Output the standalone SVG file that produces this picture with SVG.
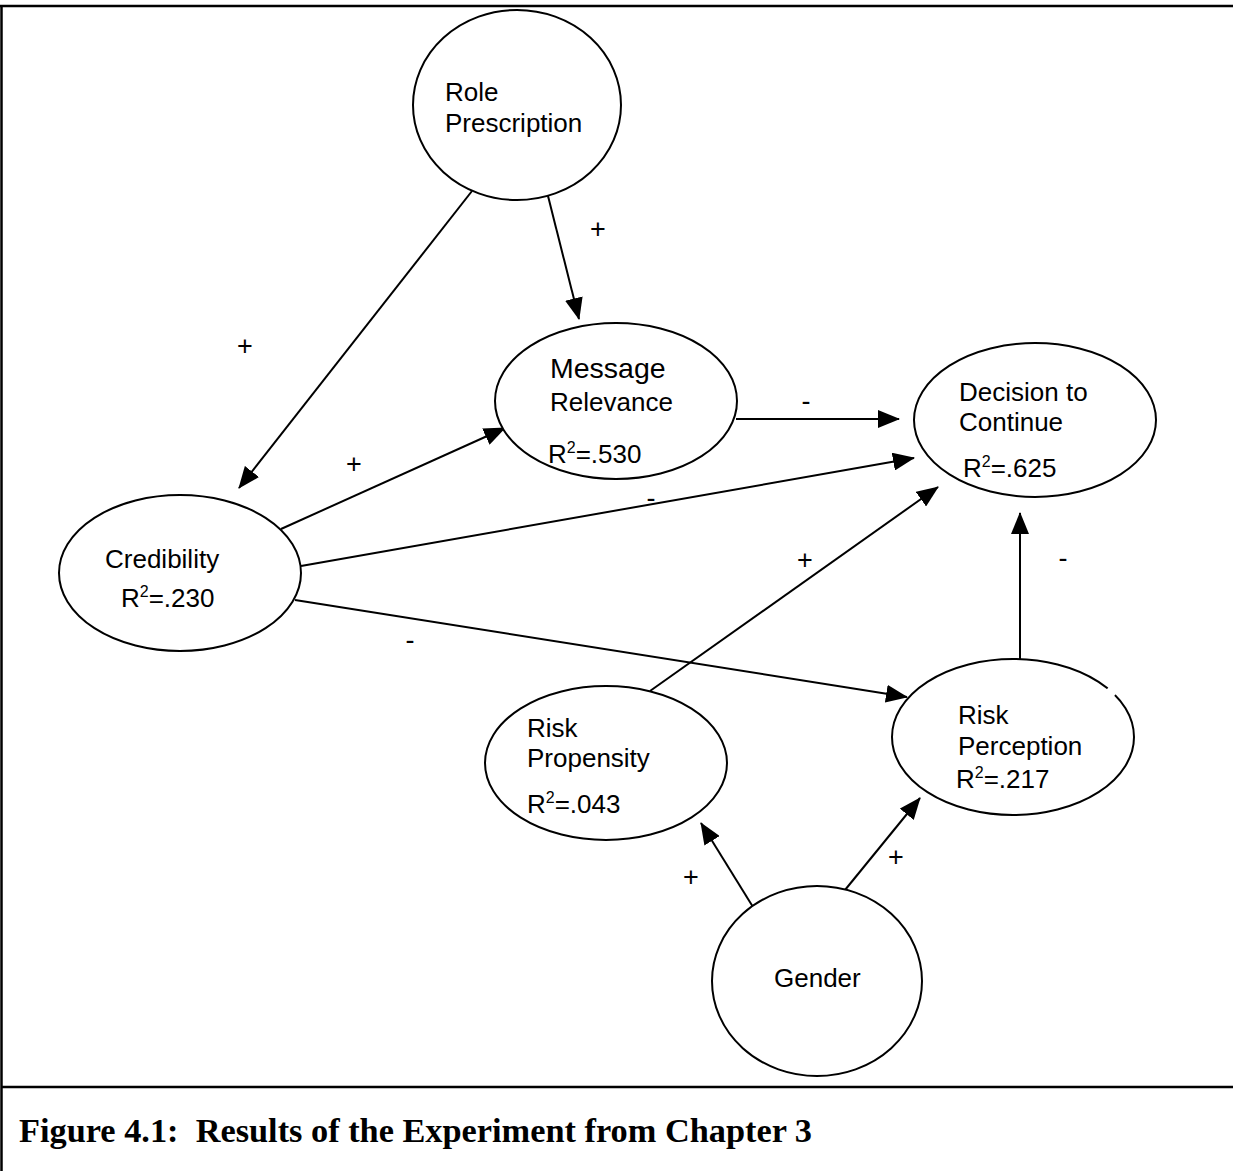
<svg xmlns="http://www.w3.org/2000/svg" width="1233" height="1171" viewBox="0 0 1233 1171">
  <style>
    .node { fill: #fff; stroke: #000; stroke-width: 2; }
    .lbl { font-family: "Liberation Sans", Arial, sans-serif; font-size: 26px; fill: #000; }
    .sup { font-size: 16px; }
    .sign { font-family: "Liberation Sans", Arial, sans-serif; font-size: 27px; fill: #000; text-anchor: middle; }
    .edge { stroke: #000; stroke-width: 2; fill: none; marker-end: url(#head); }
    .frame { stroke: #000; stroke-width: 2.5; fill: none; }
    .caption { font-family: "Liberation Serif", "Times New Roman", serif; font-weight: bold; font-size: 33px; fill: #000; }
  </style>
  <defs>
    <marker id="head" viewBox="0 0 22 18" refX="21" refY="9" markerWidth="22" markerHeight="18" markerUnits="userSpaceOnUse" orient="auto">
      <path d="M0,0 L22,9 L0,18 Z" fill="#000"/>
    </marker>
  </defs>

  <rect width="1233" height="1171" fill="#fff"/>

  <!-- page frame and caption rule -->
  <g id="frame">
    <line class="frame" x1="0" y1="6" x2="1233" y2="6"/>
    <line class="frame" x1="1.5" y1="5" x2="1.5" y2="1171"/>
    <line class="frame" x1="1" y1="1087" x2="1233" y2="1087"/>
  </g>

  <!-- paths between constructs -->
  <g id="connectors">
    <line class="edge" x1="472" y1="191" x2="239" y2="488"/>
    <line class="edge" x1="548" y1="196" x2="579" y2="319"/>
    <line class="edge" x1="281" y1="529" x2="505" y2="428"/>
    <line class="edge" x1="736" y1="419" x2="899" y2="419"/>
    <line class="edge" x1="301" y1="566" x2="914" y2="458"/>
    <line class="edge" x1="295" y1="600" x2="907" y2="697"/>
    <line class="edge" x1="650" y1="691" x2="938" y2="487"/>
    <line class="edge" x1="1020" y1="659" x2="1020" y2="513"/>
    <line class="edge" x1="753" y1="907" x2="701" y2="823"/>
    <line class="edge" x1="845" y1="890" x2="920" y2="798"/>
  </g>

  <!-- path signs -->
  <g id="signs">
    <text class="sign" x="598" y="238">+</text>
    <text class="sign" x="245" y="355">+</text>
    <text class="sign" x="354" y="473">+</text>
    <text class="sign" x="806" y="410">-</text>
    <text class="sign" x="651" y="507">-</text>
    <text class="sign" x="805" y="569">+</text>
    <text class="sign" x="1063" y="567">-</text>
    <text class="sign" x="410" y="649">-</text>
    <text class="sign" x="691" y="886">+</text>
    <text class="sign" x="896" y="866">+</text>
  </g>

  <g id="role-prescription">
    <ellipse class="node" cx="517" cy="105" rx="104" ry="95"/>
    <text class="lbl" x="445" y="101">Role</text>
    <text class="lbl" x="445" y="132">Prescription</text>
  </g>

  <g id="message-relevance">
    <ellipse class="node" cx="616" cy="401" rx="121" ry="78"/>
    <text class="lbl" x="550" y="378" style="font-size:28.5px">Message</text>
    <text class="lbl" x="550" y="411">Relevance</text>
    <text class="lbl" x="548" y="463">R<tspan class="sup" dy="-10">2</tspan><tspan dy="10">=.530</tspan></text>
  </g>

  <g id="decision-to-continue">
    <ellipse class="node" cx="1035" cy="420" rx="121" ry="77"/>
    <text class="lbl" x="959" y="401">Decision to</text>
    <text class="lbl" x="959" y="431">Continue</text>
    <text class="lbl" x="963" y="477">R<tspan class="sup" dy="-10">2</tspan><tspan dy="10">=.625</tspan></text>
  </g>

  <g id="credibility">
    <ellipse class="node" cx="180" cy="573" rx="121" ry="78"/>
    <text class="lbl" x="105" y="568">Credibility</text>
    <text class="lbl" x="121" y="607">R<tspan class="sup" dy="-10">2</tspan><tspan dy="10">=.230</tspan></text>
  </g>

  <g id="risk-propensity">
    <ellipse class="node" cx="606" cy="763" rx="121" ry="77"/>
    <text class="lbl" x="527" y="737">Risk</text>
    <text class="lbl" x="527" y="767">Propensity</text>
    <text class="lbl" x="527" y="813">R<tspan class="sup" dy="-10">2</tspan><tspan dy="10">=.043</tspan></text>
  </g>

  <g id="risk-perception">
    <ellipse class="node" cx="1013" cy="737" rx="121" ry="78"/>
    <!-- small break in the outline -->
    <line x1="1108" y1="688" x2="1115" y2="695" stroke="#fff" stroke-width="4"/>
    <text class="lbl" x="958" y="724">Risk</text>
    <text class="lbl" x="958" y="755">Perception</text>
    <text class="lbl" x="956" y="788">R<tspan class="sup" dy="-10">2</tspan><tspan dy="10">=.217</tspan></text>
  </g>

  <g id="gender">
    <ellipse class="node" cx="817" cy="981" rx="105" ry="95"/>
    <text class="lbl" x="774" y="987">Gender</text>
  </g>

  <text class="caption" x="19" y="1142" textLength="793" lengthAdjust="spacingAndGlyphs" xml:space="preserve">Figure 4.1:  Results of the Experiment from Chapter 3</text>
</svg>
